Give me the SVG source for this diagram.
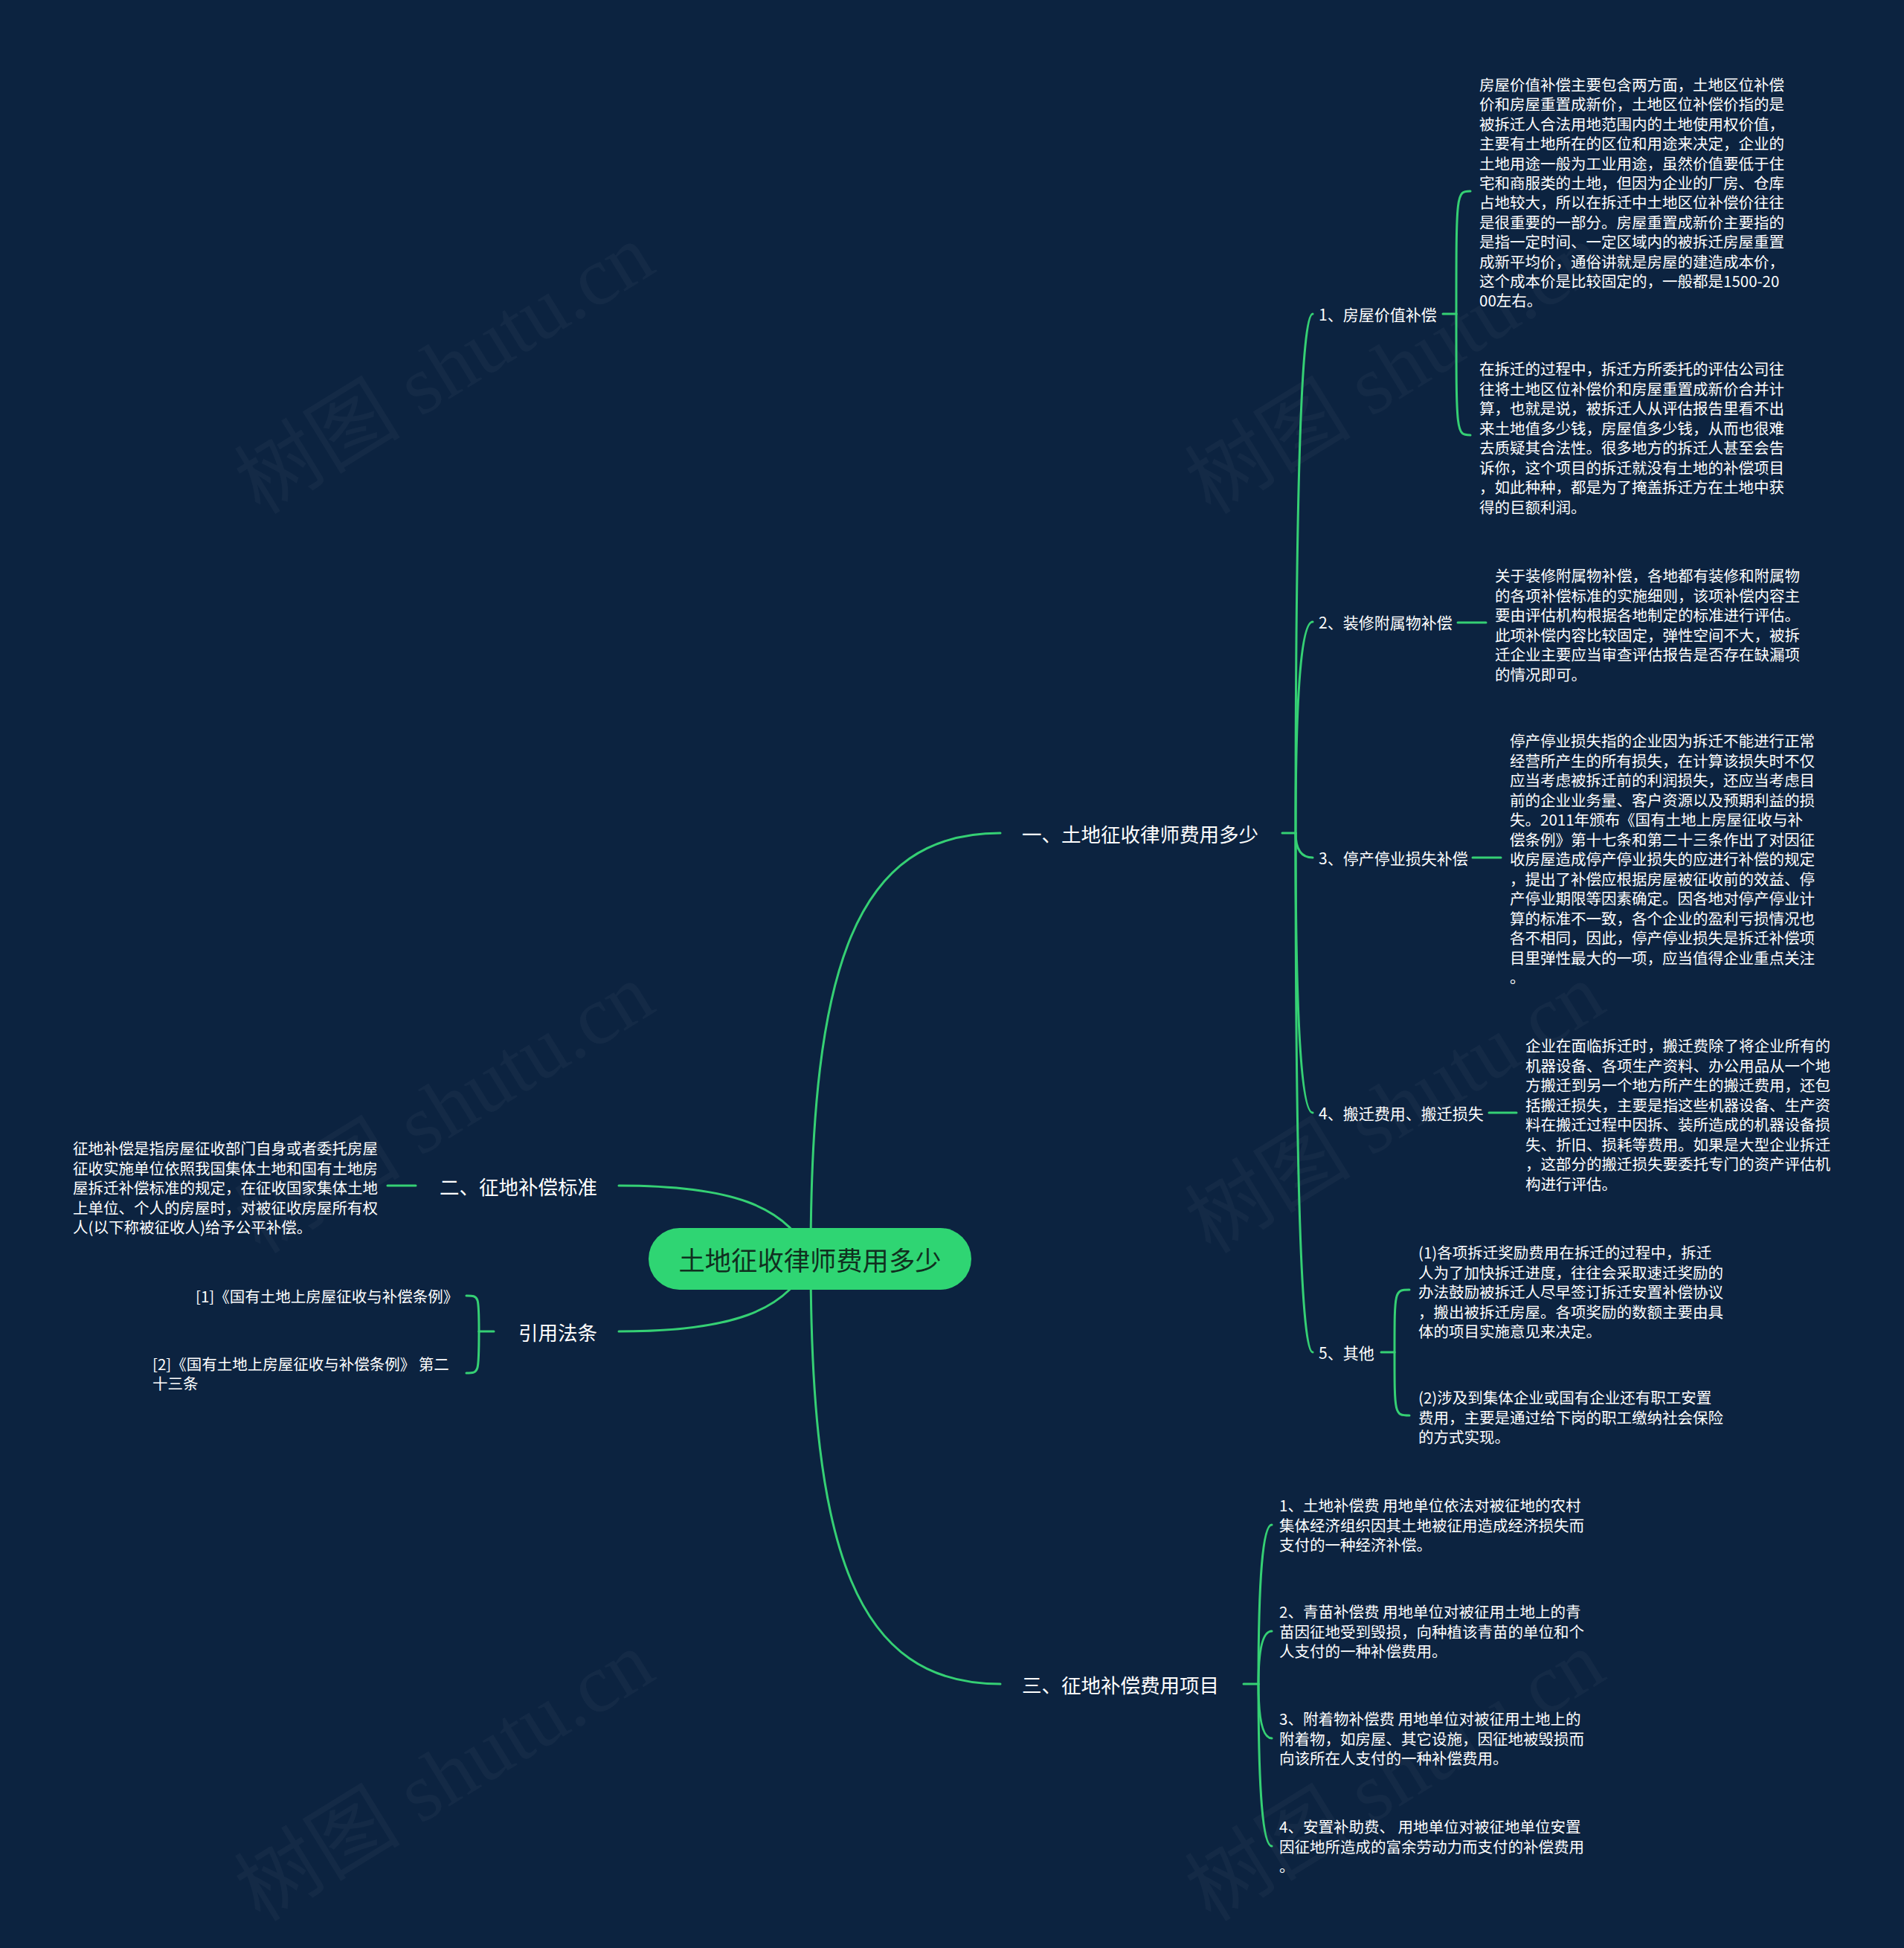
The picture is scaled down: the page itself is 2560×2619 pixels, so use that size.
<svg xmlns="http://www.w3.org/2000/svg" width="2560" height="2619" viewBox="0 0 2560 2619">
<style>
.bg{fill:#0c2340}
.wm{font-family:"Liberation Serif","Noto Sans CJK SC",serif;font-size:112px;fill:#ffffff;fill-opacity:0.035}
.ln{fill:none;stroke:#35d074;stroke-width:3;stroke-linecap:round}
.t{font-family:"Noto Sans CJK SC","Noto Sans",sans-serif;fill:#ffffff;dominant-baseline:central}
.root{font-size:35.3px;fill:#10301f;text-anchor:middle}
.br{font-size:26.5px}
.it{font-size:21px}
.ds{font-size:20.5px}
</style>
<rect class="bg" x="0" y="0" width="2560" height="2619"/>
<g id="watermarks">
<text class="wm" transform="translate(350 693) rotate(-31.6)">树图 shutu.cn</text>
<text class="wm" transform="translate(1628 693) rotate(-31.6)">树图 shutu.cn</text>
<text class="wm" transform="translate(350 1687) rotate(-31.6)">树图 shutu.cn</text>
<text class="wm" transform="translate(1628 1687) rotate(-31.6)">树图 shutu.cn</text>
<text class="wm" transform="translate(350 2585) rotate(-31.6)">树图 shutu.cn</text>
<text class="wm" transform="translate(1628 2585) rotate(-31.6)">树图 shutu.cn</text>
</g>
<g id="connectors">
<path class="ln" d="M1090 1692 C1090 1300 1150 1120 1345 1120"/>
<path class="ln" d="M1090 1692 C1060 1620 980 1594 832 1594"/>
<path class="ln" d="M1090 1692 C1060 1764 980 1790 832 1790"/>
<path class="ln" d="M1090 1692 C1090 2084 1150 2264 1345 2264"/>
<path class="ln" d="M1724 1120 H1742"/>
<path class="ln" d="M1742 1120 Q1742 422 1765 422"/>
<path class="ln" d="M1742 1120 Q1742 836 1765 836"/>
<path class="ln" d="M1742 1120 Q1742 1153 1765 1153"/>
<path class="ln" d="M1742 1120 Q1742 1496 1765 1496"/>
<path class="ln" d="M1742 1120 Q1742 1818 1765 1818"/>
<path class="ln" d="M1940 422 H1958"/>
<path class="ln" d="M1958 422 C1958 257 1958 257 1977 257"/>
<path class="ln" d="M1958 422 C1958 585 1958 585 1977 585"/>
<path class="ln" d="M1960 837 H1998"/>
<path class="ln" d="M1980 1153 H2018"/>
<path class="ln" d="M2002 1496 H2039"/>
<path class="ln" d="M1857 1818 H1875"/>
<path class="ln" d="M1875 1818 C1875 1734 1875 1734 1895 1734"/>
<path class="ln" d="M1875 1818 C1875 1903 1875 1903 1895 1903"/>
<path class="ln" d="M559 1594 H521"/>
<path class="ln" d="M664 1790 H644"/>
<path class="ln" d="M644 1790 C644 1742 644 1742 627 1742"/>
<path class="ln" d="M644 1790 C644 1846 644 1846 627 1846"/>
<path class="ln" d="M1672 2264 H1692"/>
<path class="ln" d="M1692 2264 Q1692 2050 1710 2050"/>
<path class="ln" d="M1692 2264 Q1692 2193 1710 2193"/>
<path class="ln" d="M1692 2264 Q1692 2337 1710 2337"/>
<path class="ln" d="M1692 2264 Q1692 2482 1710 2482"/>
</g>
<g id="root">
<rect x="872" y="1651" width="434" height="83" rx="41.5" fill="#2fd573"/>
<text class="t root" x="1089" y="1692">土地征收律师费用多少</text>
</g>
<g id="branch1"><text class="t br" x="1374" y="1120">一、土地征收律师费用多少</text></g>
<g id="branch2"><text class="t br" x="591" y="1594">二、征地补偿标准</text></g>
<g id="branch-law"><text class="t br" x="697" y="1790">引用法条</text></g>
<g id="branch3"><text class="t br" x="1374" y="2264">三、征地补偿费用项目</text></g>
<g id="item1"><text class="t it" x="1773" y="422">1、房屋价值补偿</text></g>
<g id="item2"><text class="t it" x="1773" y="836">2、装修附属物补偿</text></g>
<g id="item3"><text class="t it" x="1773" y="1153">3、停产停业损失补偿</text></g>
<g id="item4"><text class="t it" x="1773" y="1496">4、搬迁费用、搬迁损失</text></g>
<g id="item5"><text class="t it" x="1773" y="1818">5、其他</text></g>
<g id="desc1a"><text class="t ds">
<tspan x="1989" y="113">房屋价值补偿主要包含两方面，土地区位补偿</tspan>
<tspan x="1989" y="139.4">价和房屋重置成新价，土地区位补偿价指的是</tspan>
<tspan x="1989" y="165.8">被拆迁人合法用地范围内的土地使用权价值，</tspan>
<tspan x="1989" y="192.2">主要有土地所在的区位和用途来决定，企业的</tspan>
<tspan x="1989" y="218.6">土地用途一般为工业用途，虽然价值要低于住</tspan>
<tspan x="1989" y="245">宅和商服类的土地，但因为企业的厂房、仓库</tspan>
<tspan x="1989" y="271.4">占地较大，所以在拆迁中土地区位补偿价往往</tspan>
<tspan x="1989" y="297.8">是很重要的一部分。房屋重置成新价主要指的</tspan>
<tspan x="1989" y="324.2">是指一定时间、一定区域内的被拆迁房屋重置</tspan>
<tspan x="1989" y="350.6">成新平均价，通俗讲就是房屋的建造成本价，</tspan>
<tspan x="1989" y="377">这个成本价是比较固定的，一般都是1500-20</tspan>
<tspan x="1989" y="403.4">00左右。</tspan>
</text></g>
<g id="desc1b"><text class="t ds">
<tspan x="1989" y="495">在拆迁的过程中，拆迁方所委托的评估公司往</tspan>
<tspan x="1989" y="521.5">往将土地区位补偿价和房屋重置成新价合并计</tspan>
<tspan x="1989" y="548">算，也就是说，被拆迁人从评估报告里看不出</tspan>
<tspan x="1989" y="574.5">来土地值多少钱，房屋值多少钱，从而也很难</tspan>
<tspan x="1989" y="601">去质疑其合法性。很多地方的拆迁人甚至会告</tspan>
<tspan x="1989" y="627.5">诉你，这个项目的拆迁就没有土地的补偿项目</tspan>
<tspan x="1989" y="654">，如此种种，都是为了掩盖拆迁方在土地中获</tspan>
<tspan x="1989" y="680.5">得的巨额利润。</tspan>
</text></g>
<g id="desc2"><text class="t ds">
<tspan x="2010" y="773">关于装修附属物补偿，各地都有装修和附属物</tspan>
<tspan x="2010" y="799.5">的各项补偿标准的实施细则，该项补偿内容主</tspan>
<tspan x="2010" y="826">要由评估机构根据各地制定的标准进行评估。</tspan>
<tspan x="2010" y="852.5">此项补偿内容比较固定，弹性空间不大，被拆</tspan>
<tspan x="2010" y="879">迁企业主要应当审查评估报告是否存在缺漏项</tspan>
<tspan x="2010" y="905.5">的情况即可。</tspan>
</text></g>
<g id="desc3"><text class="t ds">
<tspan x="2030" y="995">停产停业损失指的企业因为拆迁不能进行正常</tspan>
<tspan x="2030" y="1021.5">经营所产生的所有损失，在计算该损失时不仅</tspan>
<tspan x="2030" y="1048">应当考虑被拆迁前的利润损失，还应当考虑目</tspan>
<tspan x="2030" y="1074.5">前的企业业务量、客户资源以及预期利益的损</tspan>
<tspan x="2030" y="1101">失。2011年颁布《国有土地上房屋征收与补</tspan>
<tspan x="2030" y="1127.5">偿条例》第十七条和第二十三条作出了对因征</tspan>
<tspan x="2030" y="1154">收房屋造成停产停业损失的应进行补偿的规定</tspan>
<tspan x="2030" y="1180.5">，提出了补偿应根据房屋被征收前的效益、停</tspan>
<tspan x="2030" y="1207">产停业期限等因素确定。因各地对停产停业计</tspan>
<tspan x="2030" y="1233.5">算的标准不一致，各个企业的盈利亏损情况也</tspan>
<tspan x="2030" y="1260">各不相同，因此，停产停业损失是拆迁补偿项</tspan>
<tspan x="2030" y="1286.5">目里弹性最大的一项，应当值得企业重点关注</tspan>
<tspan x="2030" y="1313">。</tspan>
</text></g>
<g id="desc4"><text class="t ds">
<tspan x="2051" y="1405">企业在面临拆迁时，搬迁费除了将企业所有的</tspan>
<tspan x="2051" y="1431.5">机器设备、各项生产资料、办公用品从一个地</tspan>
<tspan x="2051" y="1458">方搬迁到另一个地方所产生的搬迁费用，还包</tspan>
<tspan x="2051" y="1484.5">括搬迁损失，主要是指这些机器设备、生产资</tspan>
<tspan x="2051" y="1511">料在搬迁过程中因拆、装所造成的机器设备损</tspan>
<tspan x="2051" y="1537.5">失、折旧、损耗等费用。如果是大型企业拆迁</tspan>
<tspan x="2051" y="1564">，这部分的搬迁损失要委托专门的资产评估机</tspan>
<tspan x="2051" y="1590.5">构进行评估。</tspan>
</text></g>
<g id="desc5a"><text class="t ds">
<tspan x="1907" y="1683">(1)各项拆迁奖励费用在拆迁的过程中，拆迁</tspan>
<tspan x="1907" y="1709.5">人为了加快拆迁进度，往往会采取速迁奖励的</tspan>
<tspan x="1907" y="1736">办法鼓励被拆迁人尽早签订拆迁安置补偿协议</tspan>
<tspan x="1907" y="1762.5">，搬出被拆迁房屋。各项奖励的数额主要由具</tspan>
<tspan x="1907" y="1789">体的项目实施意见来决定。</tspan>
</text></g>
<g id="desc5b"><text class="t ds">
<tspan x="1907" y="1878">(2)涉及到集体企业或国有企业还有职工安置</tspan>
<tspan x="1907" y="1904.5">费用，主要是通过给下岗的职工缴纳社会保险</tspan>
<tspan x="1907" y="1931">的方式实现。</tspan>
</text></g>
<g id="desc-b2"><text class="t ds">
<tspan x="98" y="1543">征地补偿是指房屋征收部门自身或者委托房屋</tspan>
<tspan x="98" y="1569.5">征收实施单位依照我国集体土地和国有土地房</tspan>
<tspan x="98" y="1596">屋拆迁补偿标准的规定，在征收国家集体土地</tspan>
<tspan x="98" y="1622.5">上单位、个人的房屋时，对被征收房屋所有权</tspan>
<tspan x="98" y="1649">人(以下称被征收人)给予公平补偿。</tspan>
</text></g>
<g id="law1"><text class="t ds" x="263" y="1742">[1]《国有土地上房屋征收与补偿条例》</text></g>
<g id="law2"><text class="t ds">
<tspan x="205" y="1833">[2]《国有土地上房屋征收与补偿条例》 第二</tspan>
<tspan x="205" y="1859">十三条</tspan>
</text></g>
<g id="c1"><text class="t ds">
<tspan x="1720" y="2023">1、土地补偿费 用地单位依法对被征地的农村</tspan>
<tspan x="1720" y="2049.5">集体经济组织因其土地被征用造成经济损失而</tspan>
<tspan x="1720" y="2076">支付的一种经济补偿。</tspan>
</text></g>
<g id="c2"><text class="t ds">
<tspan x="1720" y="2166">2、青苗补偿费 用地单位对被征用土地上的青</tspan>
<tspan x="1720" y="2192.5">苗因征地受到毁损，向种植该青苗的单位和个</tspan>
<tspan x="1720" y="2219">人支付的一种补偿费用。</tspan>
</text></g>
<g id="c3"><text class="t ds">
<tspan x="1720" y="2310">3、附着物补偿费 用地单位对被征用土地上的</tspan>
<tspan x="1720" y="2336.5">附着物，如房屋、其它设施，因征地被毁损而</tspan>
<tspan x="1720" y="2363">向该所在人支付的一种补偿费用。</tspan>
</text></g>
<g id="c4"><text class="t ds">
<tspan x="1720" y="2455">4、安置补助费、 用地单位对被征地单位安置</tspan>
<tspan x="1720" y="2481.5">因征地所造成的富余劳动力而支付的补偿费用</tspan>
<tspan x="1720" y="2508">。</tspan>
</text></g>
</svg>
